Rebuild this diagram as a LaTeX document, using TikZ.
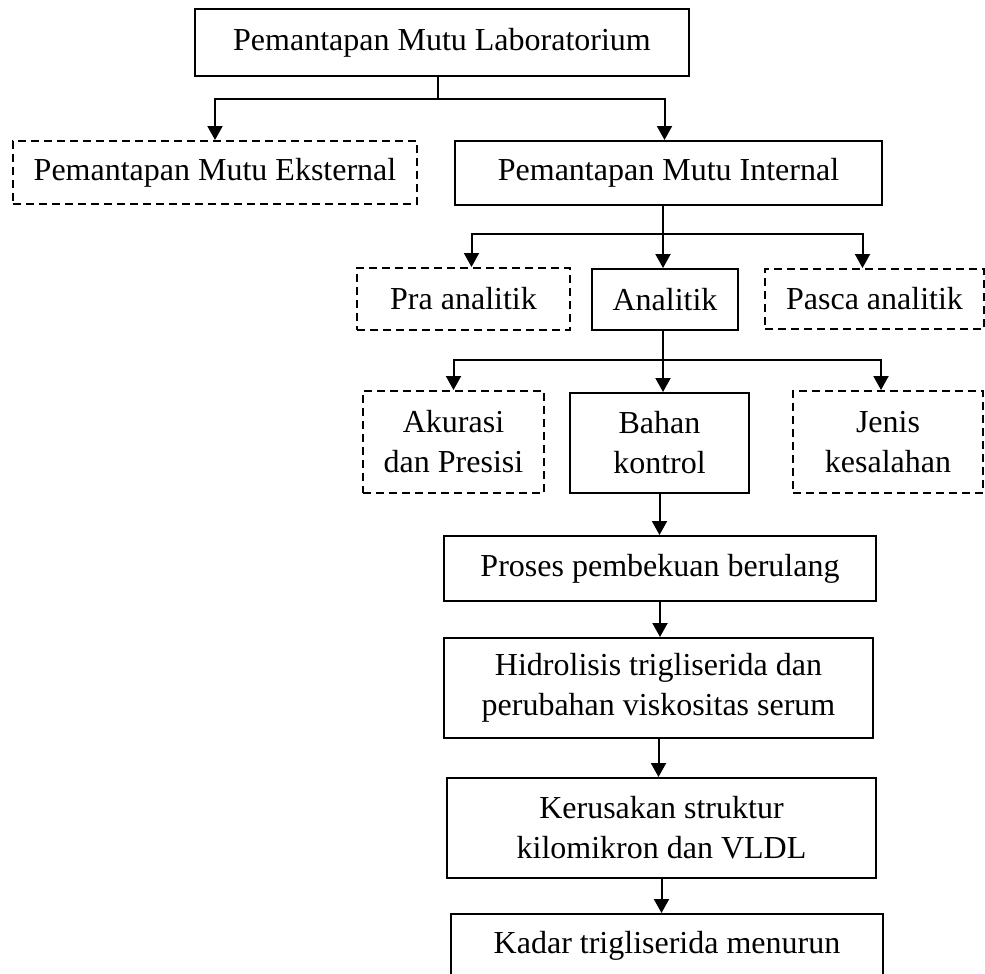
\documentclass[tikz,border=0pt]{standalone}
\usepackage{fontspec}
\setmainfont{Liberation Serif}
\usetikzlibrary{arrows.meta}
\tikzset{
  >={Triangle[length=14pt,width=15pt]},
  every picture/.style={line width=2pt},
}
\tikzstyle{box}=[draw,inner sep=0pt,align=center,font=\fontsize{32}{40}\selectfont]
\tikzstyle{dbox}=[box,dash pattern=on 8pt off 5pt]
\tikzstyle{link}=[->]

\begin{document}
\begin{tikzpicture}[x=1pt,y=-1pt]
    \useasboundingbox (0,0) rectangle (985,974);

    \node[box,minimum width=494,minimum height=67] (lab) at (442,42.5) {Pemantapan Mutu Laboratorium};
    \node[dbox,minimum width=404,minimum height=63] (eks) at (215,172.5) {Pemantapan Mutu Eksternal};
    \node[box,minimum width=427,minimum height=64] (int) at (668.5,173) {Pemantapan Mutu Internal};

    \node[dbox,minimum width=213,minimum height=62] (pra) at (463.5,299) {Pra analitik};
    \node[box,minimum width=146,minimum height=61] (ana) at (665,299.5) {Analitik};
    \node[dbox,minimum width=219,minimum height=60] (pasca) at (874.5,299) {Pasca analitik};

    \node[dbox,minimum width=181,minimum height=102] (aku) at (453.5,442) {Akurasi\\dan Presisi};
    \node[box,minimum width=179,minimum height=100] (bahan) at (659.5,443) {Bahan\\kontrol};
    \node[dbox,minimum width=190,minimum height=102] (jenis) at (888,442) {Jenis\\kesalahan};

    \node[box,minimum width=432,minimum height=65] (proses) at (660,568.5) {Proses pembekuan berulang};
    \node[box,minimum width=429,minimum height=100] (hidro) at (658.5,688) {Hidrolisis trigliserida dan\\perubahan viskositas serum};
    \node[box,minimum width=429,minimum height=100] (rusak) at (661.5,828) {Kerusakan struktur\\kilomikron dan VLDL};
    \node[box,minimum width=432,minimum height=64] (kadar) at (667,946) {Kadar trigliserida menurun};

    % cabang pertama
    \coordinate (b1) at (438,99);
    \draw (lab.south -| b1) -- (b1);
    \draw[link] (b1) -| (eks.north);
    \draw[link] (b1) -| ([xshift=-4]int.north);

    % cabang kedua
    \coordinate (b2) at (663,234);
    \draw (int.south -| b2) -- (b2);
    \draw[link] (b2) -| ([xshift=8]pra.north);
    \draw[link] (b2) -- (ana.north -| b2);
    \draw[link] (b2) -| ([xshift=-12]pasca.north);

    % cabang ketiga
    \coordinate (b3) at (663,360);
    \draw (ana.south -| b3) -- (b3);
    \draw[link] (b3) -| (aku.north);
    \draw[link] (b3) -- (bahan.north -| b3);
    \draw[link] (b3) -| ([xshift=-7]jenis.north);

    \draw[link] (bahan.south) -- (bahan.south |- proses.north);
    \draw[link] (proses.south) -- (proses.south |- hidro.north);
    \draw[link] (hidro.south) -- (hidro.south |- rusak.north);
    \draw[link] (rusak.south) -- (rusak.south |- kadar.north);
  \end{tikzpicture}
\end{document}
